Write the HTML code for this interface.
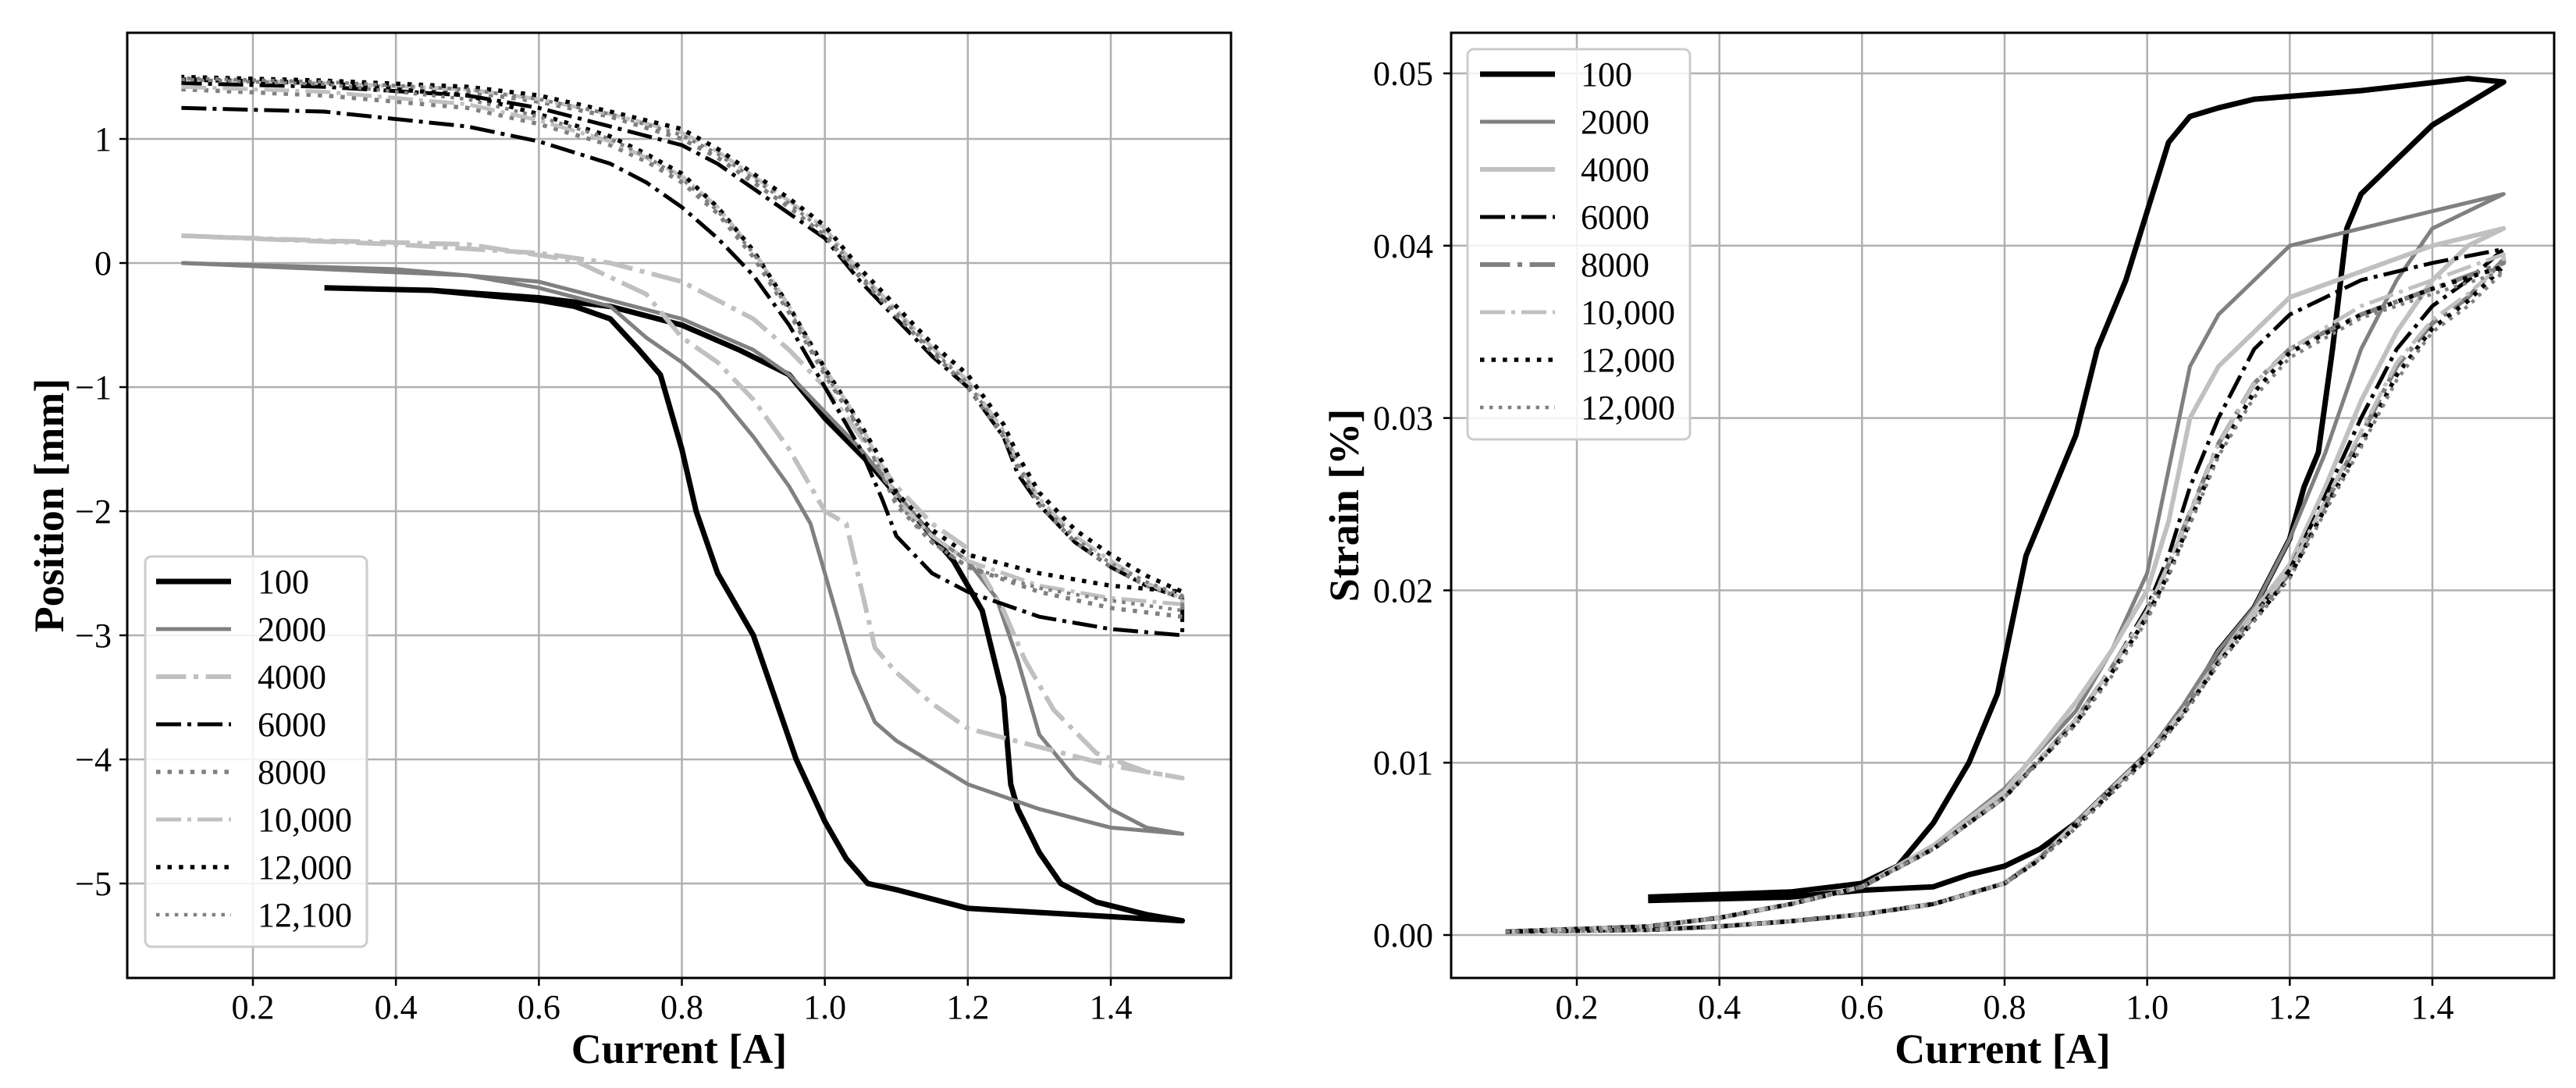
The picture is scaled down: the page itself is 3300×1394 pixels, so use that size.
<!DOCTYPE html>
<html><head><meta charset="utf-8"><style>
html,body{margin:0;padding:0;background:#fff;}
svg{display:block;font-family:"Liberation Serif",serif;}
</style></head><body>
<svg id="fig" width="3300" height="1394" viewBox="0 0 3300 1394" xmlns="http://www.w3.org/2000/svg">
<rect width="3300" height="1394" fill="#fff"/>
</svg>
<script>
// ---- ticks ----
const xTicks = [0.2,0.4,0.6,0.8,1.0,1.2,1.4];
const xTickLabels = ["0.2","0.4","0.6","0.8","1.0","1.2","1.4"];
const posTicks = [-5,-4,-3,-2,-1,0,1];
const posTickLabels = ["\u22125","\u22124","\u22123","\u22122","\u22121","0","1"];
const strTicks = [0,0.01,0.02,0.03,0.04,0.05];
const strTickLabels = ["0.00","0.01","0.02","0.03","0.04","0.05"];
const posLegend = ["100","2000","4000","6000","8000","10,000","12,000","12,100"];
const strLegend = ["100","2000","4000","6000","8000","10,000","12,000","12,000"];

// ---- position data ----
const pos100X = [0.3,0.45,0.6,0.65,0.7,0.74,0.77,0.8,0.82,0.85,0.88,0.9,0.93,0.96,1.0,1.03,1.06,1.1,1.2,1.35,1.5,1.45,1.38,1.33,1.3,1.27,1.26,1.25,1.22,1.18,1.12,1.06,1.0,0.95,0.88,0.8,0.7,0.6,0.45,0.3];
const pos100Y = [-0.2,-0.22,-0.3,-0.35,-0.45,-0.7,-0.9,-1.5,-2.0,-2.5,-2.8,-3.0,-3.5,-4.0,-4.5,-4.8,-5.0,-5.05,-5.2,-5.25,-5.3,-5.25,-5.15,-5.0,-4.75,-4.4,-4.2,-3.5,-2.8,-2.4,-2.0,-1.6,-1.25,-0.9,-0.7,-0.5,-0.35,-0.28,-0.22,-0.2];
const pos2000X = [0.1,0.3,0.5,0.6,0.7,0.75,0.8,0.85,0.9,0.95,0.98,1.0,1.02,1.04,1.07,1.1,1.2,1.3,1.4,1.5,1.45,1.4,1.35,1.3,1.27,1.24,1.2,1.15,1.1,1.05,1.0,0.95,0.9,0.8,0.7,0.6,0.4,0.1];
const pos2000Y = [0,-0.05,-0.1,-0.2,-0.35,-0.6,-0.8,-1.05,-1.4,-1.8,-2.1,-2.5,-2.9,-3.3,-3.7,-3.85,-4.2,-4.4,-4.55,-4.6,-4.55,-4.4,-4.15,-3.8,-3.2,-2.7,-2.4,-2.2,-1.85,-1.5,-1.2,-0.9,-0.7,-0.45,-0.3,-0.15,-0.05,0];
const pos4000X = [0.1,0.3,0.5,0.65,0.75,0.8,0.85,0.9,0.95,1.0,1.03,1.05,1.07,1.1,1.15,1.2,1.3,1.4,1.5,1.45,1.38,1.32,1.28,1.25,1.2,1.15,1.1,1.05,1.0,0.95,0.9,0.8,0.7,0.6,0.4,0.1];
const pos4000Y = [0.22,0.18,0.15,0.02,-0.25,-0.6,-0.8,-1.1,-1.5,-2.0,-2.1,-2.6,-3.1,-3.3,-3.55,-3.75,-3.9,-4.05,-4.15,-4.1,-3.95,-3.6,-3.2,-2.8,-2.3,-2.1,-1.8,-1.4,-1.0,-0.7,-0.45,-0.15,0.0,0.08,0.15,0.22];
const posGroupX = [0.1,0.3,0.5,0.6,0.7,0.75,0.8,0.85,0.9,0.95,1.0,1.05,1.08,1.1,1.15,1.2,1.3,1.4,1.5,1.5,1.45,1.4,1.35,1.3,1.27,1.25,1.2,1.15,1.1,1.05,1.0,0.95,0.9,0.85,0.8,0.7,0.6,0.5,0.3,0.1];
const pos6000Y = [1.25,1.22,1.1,0.98,0.8,0.65,0.45,0.2,-0.1,-0.5,-1.0,-1.5,-1.9,-2.2,-2.5,-2.65,-2.85,-2.95,-3.0,-2.7,-2.6,-2.45,-2.25,-1.95,-1.7,-1.4,-1.0,-0.75,-0.45,-0.15,0.2,0.4,0.6,0.8,0.95,1.1,1.25,1.35,1.42,1.45];
const pos8000Y = [1.4,1.35,1.25,1.12,0.95,0.82,0.65,0.4,0.05,-0.4,-0.9,-1.35,-1.7,-1.95,-2.25,-2.45,-2.65,-2.78,-2.85,-2.7,-2.6,-2.45,-2.25,-1.95,-1.65,-1.4,-1.0,-0.72,-0.42,-0.12,0.22,0.45,0.65,0.85,1.0,1.18,1.3,1.38,1.45,1.48];
const pos10000Y = [1.42,1.38,1.28,1.15,0.98,0.85,0.7,0.45,0.1,-0.35,-0.85,-1.3,-1.65,-1.9,-2.2,-2.4,-2.6,-2.7,-2.75,-2.7,-2.58,-2.4,-2.2,-1.9,-1.6,-1.35,-0.95,-0.68,-0.38,-0.08,0.28,0.5,0.7,0.9,1.05,1.2,1.32,1.4,1.45,1.48];
const pos12000Y = [1.48,1.45,1.35,1.2,1.02,0.88,0.72,0.45,0.1,-0.35,-0.85,-1.3,-1.6,-1.85,-2.15,-2.35,-2.5,-2.6,-2.65,-2.65,-2.52,-2.35,-2.15,-1.85,-1.55,-1.3,-0.9,-0.65,-0.35,-0.05,0.3,0.52,0.72,0.92,1.08,1.22,1.35,1.42,1.47,1.5];
const pos12100Y = [1.48,1.44,1.32,1.18,1.0,0.86,0.68,0.42,0.08,-0.38,-0.88,-1.35,-1.7,-1.92,-2.25,-2.45,-2.62,-2.72,-2.8,-2.68,-2.57,-2.42,-2.22,-1.92,-1.62,-1.37,-0.97,-0.7,-0.4,-0.1,0.25,0.48,0.68,0.88,1.03,1.2,1.32,1.4,1.46,1.49];

// ---- strain data ----
const str100X = [0.3,0.5,0.6,0.7,0.75,0.8,0.85,0.9,0.95,1.0,1.05,1.1,1.15,1.2,1.22,1.24,1.26,1.28,1.3,1.35,1.4,1.5,1.45,1.3,1.15,1.1,1.06,1.03,1.0,0.97,0.93,0.9,0.86,0.83,0.81,0.79,0.75,0.7,0.65,0.6,0.5,0.3];
const str100Y = [0.002,0.0022,0.0026,0.0028,0.0035,0.004,0.005,0.0065,0.0085,0.0105,0.013,0.0165,0.019,0.023,0.026,0.028,0.034,0.041,0.043,0.045,0.047,0.0495,0.0497,0.049,0.0485,0.048,0.0475,0.046,0.042,0.038,0.034,0.029,0.025,0.022,0.018,0.014,0.01,0.0065,0.004,0.003,0.0025,0.0022];
const strGroupX = [0.1,0.3,0.4,0.5,0.6,0.7,0.8,0.9,0.95,1.0,1.03,1.06,1.1,1.15,1.2,1.3,1.4,1.5,1.5,1.45,1.4,1.35,1.3,1.25,1.2,1.15,1.1,1.05,1.0,0.95,0.9,0.85,0.8,0.7,0.6,0.5,0.4,0.3,0.1];
const str2000Y = [0.0002,0.0005,0.001,0.0018,0.0028,0.0052,0.0085,0.013,0.0165,0.021,0.027,0.033,0.036,0.038,0.040,0.041,0.042,0.043,0.043,0.042,0.041,0.038,0.034,0.028,0.023,0.019,0.0165,0.0133,0.0105,0.0085,0.0065,0.0045,0.003,0.0018,0.0012,0.0008,0.0005,0.0003,0.0002];
const str4000Y = [0.0002,0.0005,0.001,0.0018,0.0028,0.0052,0.0083,0.0135,0.0165,0.020,0.024,0.030,0.033,0.035,0.037,0.0385,0.040,0.041,0.041,0.040,0.038,0.035,0.031,0.026,0.0215,0.0188,0.016,0.013,0.0105,0.0085,0.0065,0.0045,0.003,0.0018,0.0012,0.0008,0.0005,0.0003,0.0002];
const str6000Y = [0.0002,0.0005,0.001,0.0018,0.0028,0.005,0.008,0.0125,0.0155,0.019,0.022,0.026,0.030,0.034,0.036,0.038,0.039,0.0398,0.0398,0.038,0.0365,0.034,0.030,0.0255,0.0212,0.0186,0.016,0.013,0.0105,0.0085,0.0065,0.0045,0.003,0.0018,0.0012,0.0008,0.0005,0.0003,0.0002];
const str8000Y = [0.0002,0.0005,0.001,0.0018,0.0028,0.005,0.008,0.0125,0.0155,0.0188,0.0215,0.0245,0.0285,0.032,0.034,0.036,0.0375,0.039,0.0392,0.037,0.0355,0.033,0.029,0.025,0.021,0.0185,0.016,0.013,0.0105,0.0085,0.0065,0.0045,0.003,0.0018,0.0012,0.0008,0.0005,0.0003,0.0002];
const str10000Y = [0.0002,0.0005,0.001,0.0018,0.0028,0.005,0.008,0.0125,0.0155,0.0188,0.0215,0.0245,0.0285,0.032,0.034,0.0365,0.038,0.0395,0.039,0.0372,0.0357,0.0332,0.0292,0.0252,0.0212,0.0186,0.016,0.013,0.0105,0.0085,0.0065,0.0045,0.003,0.0018,0.0012,0.0008,0.0005,0.0003,0.0002];
const str12000aY = [0.0002,0.0005,0.001,0.0018,0.0028,0.005,0.008,0.0123,0.0152,0.0185,0.021,0.024,0.028,0.0315,0.0338,0.036,0.0375,0.0388,0.0388,0.0368,0.0352,0.0325,0.0285,0.0248,0.0208,0.0183,0.0158,0.0128,0.0103,0.0083,0.0063,0.0044,0.003,0.0018,0.0012,0.0008,0.0005,0.0003,0.0002];
const str12000bY = [0.0002,0.0005,0.001,0.0018,0.0028,0.005,0.008,0.0122,0.015,0.0183,0.0208,0.0238,0.0278,0.0312,0.0335,0.0358,0.0372,0.0385,0.0385,0.0365,0.035,0.0322,0.0283,0.0246,0.0207,0.0182,0.0157,0.0127,0.0102,0.0082,0.0062,0.0044,0.003,0.0018,0.0012,0.0008,0.0005,0.0003,0.0002];

const NS = "http://www.w3.org/2000/svg";
const svg = document.getElementById('fig');
function mk(tag, attrs, parent){ const e=document.createElementNS(NS,tag); for(const k in attrs) e.setAttribute(k,attrs[k]); (parent||svg).appendChild(e); return e; }

const panels = [
 {id:'position', L:163,R:1577,T:42,B:1253, x0:0.2,x0p:324,x1:1.4,x1p:1423, y0:0,y0p:337,y1:1,y1p:178,
  yt:posTicks, ytl:posTickLabels, ylabel:'Position [mm]', ylx:63, tickRight:143,
  legend:{x:186,y:713,w:284,h:500,ey:745,hx:200,tx:330,labels:posLegend},
  series:[
   {name:'100',x:pos100X,y:pos100Y,c:'#000',w:7,d:null},
   {name:'2000',x:pos2000X,y:pos2000Y,c:'#808080',w:5,d:null},
   {name:'4000',x:pos4000X,y:pos4000Y,c:'#c0c0c0',w:6,d:'dashdot'},
   {name:'6000',x:posGroupX,y:pos6000Y,c:'#000',w:5,d:'dashdot'},
   {name:'8000',x:posGroupX,y:pos8000Y,c:'#808080',w:5.5,d:'dotted'},
   {name:'10000',x:posGroupX,y:pos10000Y,c:'#c0c0c0',w:5,d:'dashdot'},
   {name:'12000',x:posGroupX,y:pos12000Y,c:'#000',w:5.5,d:'dotted'},
   {name:'12100',x:posGroupX,y:pos12100Y,c:'#808080',w:4.5,d:'dotted'}]},
 {id:'strain', L:1859,R:3272,T:42,B:1253, x0:0.2,x0p:2020,x1:1.4,x1p:3116, y0:0,y0p:1198,y1:0.05,y1p:94,
  yt:strTicks, ytl:strTickLabels, ylabel:'Strain [%]', ylx:1722, tickRight:1836,
  legend:{x:1880,y:63,w:285,h:500,ey:95,hx:1896,tx:2025,labels:strLegend},
  series:[
   {name:'100',x:str100X,y:str100Y,c:'#000',w:7,d:null},
   {name:'2000',x:strGroupX,y:str2000Y,c:'#808080',w:5,d:null},
   {name:'4000',x:strGroupX,y:str4000Y,c:'#c0c0c0',w:6,d:null},
   {name:'6000',x:strGroupX,y:str6000Y,c:'#000',w:5,d:'dashdot'},
   {name:'8000',x:strGroupX,y:str8000Y,c:'#808080',w:6,d:'dashdot'},
   {name:'10000',x:strGroupX,y:str10000Y,c:'#c0c0c0',w:5,d:'dashdot'},
   {name:'12000',x:strGroupX,y:str12000aY,c:'#000',w:5.5,d:'dotted'},
   {name:'12000b',x:strGroupX,y:str12000bY,c:'#808080',w:4.5,d:'dotted'}]}
];
function dash(d,w){ if(d==='dashdot') return [6.4*w,1.6*w,1*w,1.6*w].join(','); if(d==='dotted') return [1*w,1.65*w].join(','); return 'none'; }

panels.forEach(p=>{
  const sx = v => p.x0p + (v-p.x0)*(p.x1p-p.x0p)/(p.x1-p.x0);
  const sy = v => p.y0p + (v-p.y0)*(p.y1p-p.y0p)/(p.y1-p.y0);
  const g = mk('g',{});
  
  
  const cp = mk('clipPath',{id:'clip-'+p.id},g);
  mk('rect',{x:p.L,y:p.T,width:p.R-p.L,height:p.B-p.T},cp);
  xTicks.forEach((t,i)=>{
    const l = mk('line',{x1:sx(t),x2:sx(t),y1:p.T,y2:p.B,stroke:'#b0b0b0','stroke-width':2.5},g);
    
    
    const tk = mk('line',{x1:sx(t),x2:sx(t),y1:p.B,y2:p.B+10,stroke:'#000','stroke-width':2.5},g);
    
    
    const tx = mk('text',{x:sx(t),y:p.B+52,'font-size':44,'text-anchor':'middle',fill:'#000'},g);
    tx.textContent = xTickLabels[i];
    
    
  });
  p.yt.forEach((t,i)=>{
    const l = mk('line',{x1:p.L,x2:p.R,y1:sy(t),y2:sy(t),stroke:'#b0b0b0','stroke-width':2.5},g);
    
    
    const tk = mk('line',{x1:p.L-10,x2:p.L,y1:sy(t),y2:sy(t),stroke:'#000','stroke-width':2.5},g);
    
    
    const tx = mk('text',{x:p.tickRight,y:sy(t)+15,'font-size':44,'text-anchor':'end',fill:'#000'},g);
    tx.textContent = p.ytl[i];
    
    
  });
  const sg = mk('g',{'clip-path':'url(#clip-'+p.id+')'},g);
  p.series.forEach(s=>{
    const pts = s.x.map((v,i)=>sx(v).toFixed(1)+','+sy(s.y[i]).toFixed(1)).join(' ');
    const pl = mk('polyline',{points:pts,fill:'none',stroke:s.c,'stroke-width':s.w,'stroke-dasharray':dash(s.d,s.w),'stroke-linejoin':'round'},sg);
    
    
  });
  const fr = mk('rect',{x:p.L,y:p.T,width:p.R-p.L,height:p.B-p.T,fill:'none',stroke:'#000','stroke-width':3},g);
  
  
  const xl = mk('text',{x:(p.L+p.R)/2,y:1362,'font-size':54,'font-weight':'bold','text-anchor':'middle'},g);
  xl.textContent = 'Current [A]';
  
  
  const ym = (p.T+p.B)/2;
  const yl = mk('text',{x:p.ylx,y:ym,'font-size':54,'font-weight':'bold','text-anchor':'middle',transform:'rotate(-90 '+p.ylx+' '+ym+') translate(0 18)'},g);
  yl.textContent = p.ylabel;
  
  
  const L = p.legend;
  const lg = mk('g',{},g);
  
  
  mk('rect',{x:L.x,y:L.y,width:L.w,height:L.h,rx:8,fill:'#fff','fill-opacity':0.85,stroke:'#cccccc','stroke-width':3},lg);
  p.series.forEach((s,i)=>{
    const y = L.ey + i*61;
    const e = mk('g',{},lg);
    
    
    mk('line',{x1:L.hx,x2:L.hx+96,y1:y,y2:y,stroke:s.c,'stroke-width':s.w,'stroke-dasharray':dash(s.d,s.w)},e);
    const t = mk('text',{x:L.tx,y:y+15,'font-size':44,fill:'#000'},e);
    t.textContent = L.labels[i];
  });
});
</script>
</body></html>
